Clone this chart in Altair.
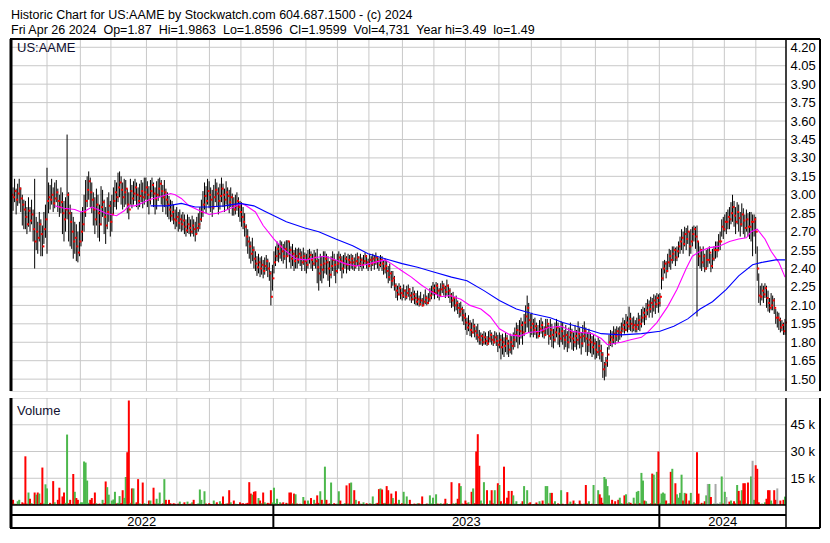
import altair as alt
import pandas as pd
import numpy as np

FONT = "Liberation Sans"

HEADER_1 = "Historic Chart for US:AAME by Stockwatch.com 604.687.1500 - (c) 2024"
HEADER_2 = ("Fri Apr 26 2024\u00a0 Op=1.87\u00a0 Hi=1.9863\u00a0 Lo=1.8596\u00a0 Cl=1.9599"
            "\u00a0 Vol=4,731\u00a0 Year hi=3.49\u00a0 lo=1.49")
SYMBOL = "US:AAME"
VOLUME_LABEL = "Volume"

PRICE_TICKS = [1.50, 1.65, 1.80, 1.95, 2.10, 2.25, 2.40, 2.55, 2.70, 2.85,
               3.00, 3.15, 3.30, 3.45, 3.60, 3.75, 3.90, 4.05, 4.20]
VOLUME_TICKS = [15000, 30000, 45000]

# trading-day positions of the month boundaries (Jun 2022 .. Apr 2024)
MONTH_STARTS = [23.0, 44.6, 64.4, 87.4, 107.1, 128.2, 148.6, 169.6, 190.7, 211.1,
                231.5, 253.2, 273.6, 294.0, 315.7, 336.7, 355.9, 378.2, 399.2,
                419.6, 441.3, 461.7, 482.1]
YEAR_STARTS = [169.6, 419.6]
YEARS = ["2022", "2023", "2024"]

# daily high / low / close in cents, 27 Apr 2022 .. 26 Apr 2024
CL = [300, 298, 303, 296, 301, 305, 297, 292, 288,
      282, 276, 287, 279, 284, 272, 262,
      270, 265, 276, 268, 258, 272, 280,
      295, 298, 296, 300, 293, 297, 302, 295, 290, 294,
      285, 280, 288, 300, 285, 278, 270, 262, 265, 258, 253,
      262, 270, 276, 286, 295, 304, 311, 302, 296, 288,
      280, 292, 285, 276, 290, 294, 282, 275, 286, 291, 278, 284, 295,
      302, 298, 306, 310, 304, 298, 302, 305, 292, 288,
      303, 297, 301, 306, 300, 295, 299, 303, 298,
      302, 306, 300, 296, 303, 308, 301, 297, 300, 305, 309, 303, 298, 302, 296, 292,
      288, 283, 286, 280, 279, 282, 277, 280, 276, 279,
      274, 271, 276, 273, 270, 275, 272, 268, 273, 276, 280, 286, 292,
      299, 295, 303, 300, 296, 290, 298, 304, 301, 295, 299, 305, 300, 296, 302,
      299, 294, 298, 292, 288, 291, 295, 290, 286, 282, 278, 274,
      266, 262, 258, 252, 255, 248, 244, 241, 245, 240, 243, 238, 242, 246, 240, 236, 217,
      232, 245, 250, 256, 252, 258, 254, 250, 256, 250, 262, 255, 248, 252, 246, 250,
      247, 252, 249, 245, 250, 246, 243, 248, 251, 247, 244, 249, 246,
      241, 236, 243, 239, 244, 248,
      245, 240, 235, 242, 247, 243, 238, 244, 249, 246, 240, 244, 248, 243, 247, 245,
      248, 245, 242, 246, 249, 244, 247, 243, 246, 250, 245, 242, 247, 244, 248, 245, 249, 246, 243, 247, 244, 240, 242,
      238, 233, 236, 230, 232, 226,
      222, 219, 224, 220, 218, 222, 217, 220, 223, 218, 215, 219, 216,
      213, 215, 211, 214, 210, 213, 216, 212, 215,
      218, 221, 224, 220, 226, 222, 218, 223, 226, 224, 221, 226, 222,
      218, 214, 216, 210, 212, 208, 205, 207, 202, 200,
      196, 192, 195, 190, 188, 193, 189, 186, 184,
      182, 185, 180, 184, 181, 179, 183, 186, 182, 180, 184, 181, 178,
      182, 176, 180, 177, 183, 179, 174, 180, 177, 182,
      186, 190, 185, 189, 194, 188, 196, 201, 208, 198, 192, 195,
      190, 193, 188, 185, 191, 194, 189, 186, 192, 195,
      185, 190, 186, 182, 188, 192, 187, 183, 189,
      185, 182, 186, 180, 184, 188, 183, 180, 185, 182,
      187, 184, 179, 185, 189, 183, 178, 182, 180,
      176, 179, 174, 172, 177, 173, 170,
      158, 162, 165, 170,
      180, 184, 182, 187, 185, 189, 186, 188, 191,
      194, 190, 196, 193, 199, 195, 192, 194, 191,
      194, 198, 195, 200, 204, 201, 206, 210, 207, 212,
      209, 214, 211, 216, 212, 217,
      232, 240, 244, 238, 245, 250, 247, 252, 255, 249, 254, 258, 262,
      265, 260, 268, 264, 270, 258, 262, 268, 272, 266, 262,
      250, 255, 245, 250, 240, 247, 247, 253, 242, 248, 255,
      255, 255, 262, 262, 274, 272, 278, 278, 282, 280,
      285, 290, 283, 278, 286, 281, 276, 284, 279, 273, 280, 274, 274, 278, 278, 280, 270,
      240, 218, 217, 222, 219, 224, 216, 212, 208, 210, 214, 208,
      200, 200, 198, 192, 194, 189, 196]

HI = [310, 306, 313, 305, 309, 313, 306, 300, 296,
      295, 290, 298, 290, 296, 288, 313,
      282, 278, 286, 280, 275, 286, 292,
      322, 310, 308, 313, 306, 310, 312, 305, 300, 306,
      302, 295, 298, 349, 302, 292, 286, 282, 278, 276, 270,
      278, 286, 290, 300, 312, 315, 319, 314, 310, 302,
      298, 305, 300, 292, 307, 304, 296, 290, 298, 302, 295, 300, 306,
      312, 310, 318, 319, 315, 310, 313, 312, 305, 302,
      313, 308, 311, 313, 310, 306, 309, 312, 310,
      314, 314, 311, 307, 312, 314, 310, 306, 311, 313, 314, 312, 308, 312, 305, 302,
      299, 296, 295, 292, 288, 290, 286, 288, 284, 286,
      284, 280, 284, 282, 280, 283, 280, 278, 282, 285, 290, 296, 303,
      310, 307, 313, 311, 306, 304, 308, 313, 310, 306, 309, 314, 309, 305, 311,
      306, 304, 306, 301, 298, 300, 302, 298, 295, 294, 290, 285,
      276, 272, 266, 262, 265, 258, 254, 250, 252, 249, 250, 247, 249, 251, 248, 245, 238,
      243, 254, 258, 262, 260, 263, 262, 260, 262, 263, 263, 262, 258, 260, 255, 257,
      256, 257, 256, 254, 257, 253, 252, 255, 256, 254, 252, 255, 253,
      256, 248, 252, 250, 254, 254,
      252, 250, 246, 250, 254, 252, 247, 252, 254, 252, 250, 251, 253, 250, 252, 251,
      252, 251, 249, 252, 253, 250, 252, 249, 251, 253, 251, 248, 252, 250, 252, 251, 253, 250, 249, 251, 250, 247, 248,
      246, 242, 244, 238, 238, 234,
      228, 226, 228, 226, 224, 227, 223, 226, 227, 224, 221, 225, 222,
      220, 222, 218, 221, 216, 219, 223, 218, 220,
      224, 226, 229, 227, 229, 228, 224, 228, 230, 228, 226, 231, 227,
      224, 220, 221, 217, 218, 214, 212, 213, 209, 207,
      204, 200, 202, 198, 196, 199, 195, 193, 195,
      190, 188, 187, 189, 188, 185, 189, 190, 188, 186, 189, 188, 186,
      188, 186, 187, 184, 188, 186, 182, 187, 185, 188,
      192, 196, 194, 198, 200, 197, 203, 210, 218, 212, 203, 204,
      199, 200, 196, 194, 198, 200, 197, 193, 199, 199,
      194, 199, 195, 191, 196, 199, 196, 192, 197,
      196, 190, 194, 189, 192, 196, 191, 188, 194, 190,
      197, 192, 188, 194, 197, 192, 188, 191, 188,
      185, 186, 183, 181, 184, 182, 178,
      172, 164, 168, 176,
      186, 190, 189, 193, 191, 193, 192, 193, 196,
      200, 198, 203, 201, 209, 204, 200, 201, 198,
      200, 204, 202, 207, 209, 208, 212, 215, 214, 217,
      216, 219, 218, 220, 219, 220,
      240, 246, 247, 246, 252, 256, 255, 258, 258, 257, 258, 262, 266,
      272, 270, 274, 273, 275, 270, 272, 274, 275, 274, 275,
      262, 258, 256, 258, 252, 255, 256, 258, 252, 256, 258,
      262, 262, 268, 270, 280, 282, 284, 286, 288, 290,
      294, 300, 295, 290, 294, 292, 286, 293, 289, 284, 288, 285, 286, 286, 284, 284, 282,
      258, 236, 226, 228, 226, 228, 226, 222, 216, 220, 218, 216,
      207, 205, 204, 200, 198, 196, 199]

LO = [290, 287, 294, 284, 291, 293, 286, 275, 272,
      272, 268, 274, 270, 276, 262, 240,
      255, 252, 262, 250, 250, 260, 265,
      252, 285, 288, 292, 286, 289, 294, 286, 282, 285,
      268, 262, 270, 280, 262, 258, 256, 248, 252, 246, 245,
      250, 258, 262, 270, 282, 290, 296, 290, 285, 275,
      268, 275, 265, 262, 275, 282, 268, 260, 272, 278, 266, 270, 284,
      290, 288, 294, 298, 292, 288, 290, 292, 285, 280,
      292, 289, 292, 295, 290, 288, 290, 294, 289,
      292, 296, 290, 284, 292, 298, 290, 284, 288, 295, 298, 292, 286, 290, 284, 282,
      280, 278, 279, 276, 272, 274, 270, 272, 270, 271,
      268, 266, 269, 268, 266, 268, 266, 262, 268, 270, 272, 278, 282,
      288, 285, 292, 289, 286, 282, 288, 294, 290, 284, 288, 294, 290, 286, 292,
      288, 285, 290, 283, 283, 284, 287, 282, 278, 274, 272, 266,
      258, 252, 248, 244, 246, 240, 238, 234, 236, 233, 235, 232, 235, 238, 233, 230, 210,
      222, 236, 242, 246, 245, 248, 246, 244, 247, 240, 250, 245, 240, 242, 238, 240,
      240, 244, 242, 238, 243, 238, 236, 240, 244, 240, 238, 242, 240,
      228, 222, 230, 228, 232, 236,
      235, 230, 225, 232, 238, 234, 228, 236, 240, 238, 232, 236, 240, 236, 239, 238,
      240, 239, 238, 240, 242, 238, 241, 238, 240, 243, 240, 238, 241, 238, 242, 239, 243, 240, 238, 241, 238, 235, 236,
      232, 228, 230, 224, 226, 222,
      216, 214, 218, 215, 214, 216, 214, 215, 217, 214, 212, 214, 211,
      210, 210, 209, 210, 209, 210, 211, 210, 211,
      213, 215, 218, 215, 219, 216, 214, 217, 220, 218, 216, 218, 216,
      212, 208, 209, 205, 206, 203, 200, 201, 197, 194,
      190, 186, 189, 185, 184, 187, 184, 182, 180,
      178, 178, 177, 178, 178, 177, 178, 180, 178, 177, 179, 177, 172,
      175, 166, 170, 168, 172, 170, 168, 171, 170, 174,
      176, 180, 175, 178, 183, 178, 185, 188, 192, 188, 184, 186,
      184, 186, 183, 183, 185, 187, 184, 183, 185, 186,
      178, 182, 176, 175, 180, 184, 178, 176, 180,
      178, 174, 176, 172, 175, 180, 174, 173, 176, 174,
      178, 175, 170, 176, 180, 172, 169, 172, 171,
      168, 170, 166, 167, 169, 166, 164,
      151, 149, 152, 160,
      174, 177, 176, 179, 178, 181, 180, 182, 184,
      188, 187, 189, 188, 190, 189, 188, 189, 188,
      188, 190, 189, 192, 196, 194, 198, 202, 200, 204,
      200, 205, 203, 208, 204, 209,
      223, 230, 236, 232, 237, 241, 239, 244, 246, 242, 246, 249, 252,
      255, 252, 258, 255, 260, 250, 252, 258, 262, 256, 201,
      242, 240, 238, 241, 237, 239, 241, 244, 237, 240, 246,
      248, 249, 254, 255, 266, 264, 270, 268, 272, 272,
      276, 278, 274, 268, 276, 270, 266, 274, 268, 265, 270, 266, 264, 262, 250, 266, 252,
      230, 212, 210, 214, 212, 216, 208, 205, 204, 206, 206, 203,
      195, 192, 190, 188, 189, 186, 186]

# daily volume in hundreds of shares
VOL = [12, 29, 8, 6, 21, 29, 5, 15, 9, 273,
       8, 70, 35, 10, 6, 70, 58, 70, 64, 12,
       210, 9, 116, 93, 5, 12, 7, 134, 15, 6,
       29, 97, 8, 48, 70, 12, 395, 10, 29, 6,
       174, 74, 39, 29, 8, 15, 15, 244, 238, 137,
       12, 29, 39, 9, 70, 10, 5, 8, 6, 29,
       10, 132, 100, 58, 7, 25, 31, 74, 9, 12,
       50, 10, 83, 40, 157, 296, 586, 12, 93, 93,
       8, 15, 145, 9, 6, 126, 10, 7, 5, 25,
       25, 6, 97, 8, 35, 10, 70, 5, 9, 145,
       29, 6, 29, 10, 5, 10, 7, 4, 8, 19,
       5, 7, 15, 4, 19, 6, 8, 15, 29, 5,
       6, 9, 87, 29, 5, 77, 8, 4, 10, 6,
       5, 25, 7, 15, 4, 21, 9, 48, 6, 8,
       9, 83, 15, 5, 25, 7, 6, 4, 15, 8,
       10, 6, 9, 12, 128, 64, 58, 74, 77, 8,
       39, 25, 10, 70, 15, 8, 12, 9, 83, 14,
       97, 10, 35, 6, 15, 8, 15, 5, 12, 9,
       70, 70, 10, 64, 60, 8, 6, 7, 5, 45,
       25, 6, 25, 8, 39, 5, 29, 9, 54, 12,
       77, 29, 8, 215, 29, 6, 9, 126, 5, 10,
       6, 8, 77, 25, 5, 7, 10, 110, 9, 122,
       126, 7, 83, 29, 5, 21, 8, 6, 15, 4,
       10, 5, 10, 7, 48, 6, 9, 12, 89, 93,
       87, 10, 12, 106, 83, 8, 64, 39, 9, 77,
       8, 29, 6, 10, 74, 7, 48, 5, 29, 6,
       6, 8, 5, 10, 9, 7, 48, 4, 6, 8,
       7, 54, 9, 41, 5, 60, 8, 6, 10, 6,
       8, 35, 10, 5, 6, 128, 9, 7, 12, 35,
       122, 106, 8, 6, 25, 10, 15, 5, 74, 93,
       10, 300, 397, 220, 25, 8, 128, 2, 83, 6,
       25, 83, 9, 83, 6, 122, 112, 21, 8, 215,
       10, 41, 79, 7, 79, 54, 8, 21, 5, 6,
       8, 21, 106, 6, 83, 9, 15, 3, 5, 7,
       14, 6, 21, 8, 25, 5, 106, 106, 9, 68,
       68, 8, 21, 5, 9, 6, 83, 7, 2, 6,
       72, 8, 19, 6, 25, 9, 3, 5, 25, 7,
       6, 8, 112, 9, 21, 5, 7, 112, 3, 6,
       83, 60, 41, 12, 157, 145, 106, 54, 8, 29,
       8, 21, 6, 29, 41, 10, 7, 54, 60, 9,
       15, 12, 6, 41, 8, 74, 79, 10, 180, 137,
       25, 21, 8, 6, 10, 176, 170, 9, 186, 300,
       12, 64, 70, 64, 25, 8, 10, 186, 203, 9,
       122, 60, 41, 68, 170, 25, 68, 64, 8, 25,
       68, 8, 15, 9, 296, 64, 6, 12, 10, 21,
       54, 118, 118, 45, 6, 8, 118, 10, 7, 15,
       160, 8, 74, 45, 6, 19, 25, 10, 21, 9,
       112, 79, 25, 83, 122, 122, 9, 126, 6, 160,
       248, 29, 223, 203, 15, 6, 8, 6, 15, 35,
       83, 83, 25, 8, 83, 29, 93, 2, 25, 6,
       29, 47]

# moving averages (day index, price)
MA_FAST_X = [28, 34, 41, 45, 48, 52, 56, 61, 68, 73, 76, 80, 84, 89, 95, 103, 106, 110, 115, 122,
             128, 133, 138, 144, 149, 152, 158, 163, 170, 176, 184, 191, 197, 203, 210, 216, 223, 229, 235, 242,
             246, 253, 259, 265, 272, 278, 284, 291, 297, 304, 310, 316, 323, 329, 335, 342, 348, 356, 363, 369,
             376, 382, 386, 390, 395, 401, 408, 412, 418, 425, 431, 437, 441, 446, 452, 458, 465, 471, 476, 479,
             483, 488, 492, 497, 501]
MA_FAST_Y = [2.91, 2.89, 2.88, 2.86, 2.87, 2.90, 2.88, 2.85, 2.83, 2.87, 2.91, 2.91, 2.93, 2.96, 2.98, 3.01, 3.00, 2.97, 2.91, 2.87,
             2.84, 2.85, 2.87, 2.90, 2.93, 2.91, 2.86, 2.75, 2.64, 2.56, 2.48, 2.47, 2.49, 2.50, 2.47, 2.44, 2.42, 2.43, 2.45, 2.47,
             2.44, 2.38, 2.33, 2.27, 2.21, 2.17, 2.18, 2.15, 2.10, 2.07, 2.01, 1.91, 1.86, 1.85, 1.88, 1.89, 1.92, 1.93, 1.89, 1.88,
             1.87, 1.83, 1.78, 1.79, 1.80, 1.82, 1.84, 1.88, 1.96, 2.09, 2.23, 2.40, 2.50, 2.54, 2.57, 2.58, 2.62, 2.64, 2.65, 2.70,
             2.72, 2.64, 2.54, 2.45, 2.33]
MA_SLOW_X = [90, 101, 110, 119, 127, 138, 148, 157, 165, 178, 190, 199, 210, 221, 231, 242, 253, 263, 274, 285,
             295, 306, 316, 327, 338, 349, 357, 369, 382, 395, 408, 420, 429, 438, 446, 454, 463, 471, 480, 486,
             495, 501]
MA_SLOW_Y = [2.91, 2.91, 2.93, 2.90, 2.90, 2.91, 2.93, 2.91, 2.86, 2.78, 2.73, 2.70, 2.64, 2.585, 2.52, 2.48, 2.44, 2.41, 2.37, 2.33,
             2.30, 2.22, 2.14, 2.07, 2.03, 2.00, 1.96, 1.92, 1.87, 1.86, 1.87, 1.89, 1.93, 1.99, 2.07, 2.13, 2.23, 2.34, 2.43, 2.45,
             2.47, 2.47]

# ---------------------------------------------------------------- tables
n = min(len(CL), len(HI), len(LO), len(VOL))
df = pd.DataFrame({
    "i": np.arange(n),
    "hi": np.array(HI[:n]) / 100.0,
    "lo": np.array(LO[:n]) / 100.0,
    "cl": np.array(CL[:n]) / 100.0,
    "vol": np.array(VOL[:n]) * 100,
})
prev = df["cl"].shift(1)
df["dir"] = np.where(df["cl"] > prev, "up", np.where(df["cl"] < prev, "down", "flat"))
df.loc[0, "dir"] = "up"

fast = pd.DataFrame({"i": MA_FAST_X[:len(MA_FAST_Y)], "v": MA_FAST_Y[:len(MA_FAST_X)]})
slow = pd.DataFrame({"i": MA_SLOW_X[:len(MA_SLOW_Y)], "v": MA_SLOW_Y[:len(MA_SLOW_X)]})

X0, X1 = -0.97, 501.64
bounds = [X0] + YEAR_STARTS + [X1]
years = pd.DataFrame({"t": YEARS, "m": [(bounds[k] + bounds[k + 1]) / 2 for k in range(len(YEARS))]})
ystarts = pd.DataFrame({"b": YEAR_STARTS})
months = pd.DataFrame({"b": MONTH_STARTS})
pticks = pd.DataFrame({"v": PRICE_TICKS})
vticks = pd.DataFrame({"v": VOLUME_TICKS})

# ---------------------------------------------------------------- layout
W, TOT = 776, 810          # plot width, width including the label column
HP, HV, ROWS, ROW1 = 352, 107, 23, 10
GRID = "#C8C8C8"

XS = alt.Scale(domain=[X0, X1], range=[0, W], nice=False, zero=False)
YP = alt.Scale(domain=[1.4034, 4.2675], nice=False, zero=False)
YAXP = alt.Axis(orient="right", offset=W - TOT, values=PRICE_TICKS, format=".2f", grid=False,
                ticks=False, domain=False, title=None, labelFontSize=13, labelFont=FONT,
                labelColor="black", labelPadding=4, labelOverlap=False)
YV = alt.Scale(domain=[0, 60000], range=[HV, 0], nice=False, zero=False)
YAXV = alt.Axis(orient="right", offset=W - TOT, values=VOLUME_TICKS,
                labelExpr="datum.value / 1000 + ' k'", grid=False, ticks=False, domain=False,
                title=None, labelFontSize=13, labelFont=FONT, labelColor="black",
                labelPadding=4, labelOverlap=False)


def px(field):
    return alt.X(field, scale=XS, axis=None)


def one(text=""):
    return alt.Chart(pd.DataFrame({"t": [text]}))


def txt(text, x, y, baseline="alphabetic", color="black", size=13):
    return one(text).mark_text(align="left", baseline=baseline, fontSize=size, font=FONT,
                               color=color).encode(
        x=alt.value(x), y=alt.value(y), text="t:N")


def hline(x, x2, y, w):
    return one().mark_rule(color="black", strokeWidth=w).encode(
        x=alt.value(x), x2=alt.value(x2), y=alt.value(y))


def vline(x, y, y2, w):
    return one().mark_rule(color="black", strokeWidth=w).encode(
        x=alt.value(x), y=alt.value(y), y2=alt.value(y2))


# ---------------------------------------------------------------- price panel
p_hgrid = alt.Chart(pticks).mark_rule(color=GRID, strokeWidth=1).encode(
    y=alt.Y("v:Q", scale=YP, axis=YAXP), x=alt.value(0), x2=alt.value(W))
p_vgrid = alt.Chart(months).mark_rule(color=GRID, strokeWidth=1).encode(
    x=px("b:Q"), y=alt.value(0), y2=alt.value(HP))
base = alt.Chart(df)
hl = base.mark_rule(color="black", strokeWidth=1).encode(
    x=px("i:Q"), y=alt.Y("lo:Q", scale=YP, axis=YAXP), y2="hi:Q")
closes = base.mark_square(color="#FF0000", size=4, opacity=1, xOffset=1).encode(
    x=px("i:Q"), y=alt.Y("cl:Q", scale=YP, axis=YAXP))
ma_fast = alt.Chart(fast).mark_line(color="#FF00FF", strokeWidth=1.1).encode(
    x=px("i:Q"), y=alt.Y("v:Q", scale=YP, axis=YAXP))
ma_slow = alt.Chart(slow).mark_line(color="#0000FF", strokeWidth=1.1).encode(
    x=px("i:Q"), y=alt.Y("v:Q", scale=YP, axis=YAXP))

price = alt.layer(
    p_hgrid, p_vgrid, hl, closes, ma_fast, ma_slow,
    txt(SYMBOL, 7, 13, color="#101030"),
    txt(HEADER_1, 1, -30, baseline="top", size=12.5),
    txt(HEADER_2, 1, -15, baseline="top", size=12.5),
    vline(W, 0, HP, 1.5),
    vline(1, 0, HP, 3),
    vline(TOT, 0, HP, 2),
    hline(0, TOT, 0, 2),
).properties(width=TOT, height=HP)

# ---------------------------------------------------------------- volume panel + time rows
v_hgrid = alt.Chart(vticks).mark_rule(color=GRID, strokeWidth=1).encode(
    y=alt.Y("v:Q", scale=YV, axis=YAXV), x=alt.value(0), x2=alt.value(W))
v_vgrid = alt.Chart(months).mark_rule(color=GRID, strokeWidth=1).encode(
    x=px("b:Q"), y=alt.value(0), y2=alt.value(HV))
vbars = base.mark_rule(strokeWidth=2).encode(
    x=px("i:Q"),
    y=alt.Y("vol:Q", scale=YV, axis=YAXV),
    y2=alt.datum(0),
    color=alt.Color("dir:N", scale=alt.Scale(domain=["up", "down", "flat"],
                                             range=["#4CB84C", "#FF0000", "#A8A8A8"]),
                    legend=None),
)
ysep = alt.Chart(ystarts).mark_rule(color="black", strokeWidth=2).encode(
    x=px("b:Q"), y=alt.value(HV), y2=alt.value(HV + ROWS))
ylab = alt.Chart(years).mark_text(align="center", baseline="middle", fontSize=13, font=FONT,
                                  color="black").encode(
    x=px("m:Q"), y=alt.value(HV + ROW1 + (ROWS - ROW1) / 2 + 0.5), text="t:N")

volume = alt.layer(
    v_hgrid, v_vgrid, vbars,
    txt(VOLUME_LABEL, 7, 17, color="#101030"),
    ysep, ylab,
    hline(0, W, HV, 1.5),
    hline(0, W, HV + ROW1, 2),
    hline(0, TOT, HV + ROWS, 2),
    vline(W, 0, HV + ROWS, 1.5),
    vline(1, 0, HV + ROWS, 3),
    vline(TOT, 0, HV + ROWS, 2),
).properties(width=TOT, height=HV + ROWS)

chart = alt.vconcat(price, volume, spacing=3, padding=0).resolve_scale(
    y="independent", color="independent"
).configure_view(stroke="black", strokeWidth=1.5).configure(background="white")

chart.save("out.html", embed_options={"renderer": "svg", "actions": False})
